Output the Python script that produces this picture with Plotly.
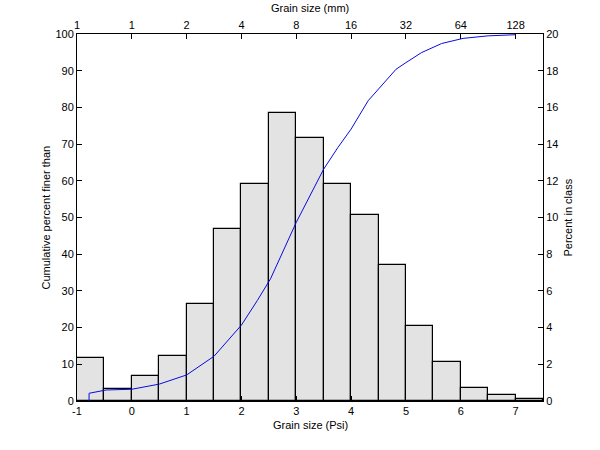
import plotly.graph_objects as go

# Histogram classes (Psi) and percent in class
bin_left = [-1.0, -0.5, 0.0, 0.5, 1.0, 1.5, 2.0, 2.5, 3.0, 3.5, 4.0, 4.5, 5.0, 5.5, 6.0, 6.5, 7.0]
pct_in_class = [2.37, 0.63, 1.34, 2.43, 5.26, 9.35, 11.83, 15.69, 14.33, 11.83, 10.15, 7.39, 4.08, 2.12, 0.69, 0.33, 0.11]
bin_width = 0.5

# Cumulative curve (Psi, percent finer than)
cum_psi = [-0.78, -0.78, -0.47, 0.0, 0.5, 1.0, 1.5, 2.0, 2.29, 2.53, 3.0, 3.5, 3.76, 4.0, 4.31, 4.55, 4.82, 5.0, 5.28, 5.65, 6.04, 6.5, 7.0]
cum_pct = [0.0, 2.1, 3.0, 3.2, 4.6, 7.1, 12.2, 20.7, 27.4, 33.3, 48.7, 63.2, 69.1, 74.1, 81.8, 85.9, 90.4, 92.2, 94.9, 97.4, 98.8, 99.5, 99.8]

# Axis ticks
psi_ticks = [-1, 0, 1, 2, 3, 4, 5, 6, 7]
psi_ticktext = ["-1", "0", "1", "2", "3", "4", "5", "6", "7"]
mm_ticktext = ["1", "1", "2", "4", "8", "16", "32", "64", "128"]

FONT = "Liberation Sans, Arial, sans-serif"
bar_centers = [b + bin_width / 2 for b in bin_left]

fig = go.Figure()
fig.add_trace(go.Bar(
    x=bar_centers, y=pct_in_class, width=bin_width,
    marker=dict(color="#e3e3e3", line=dict(color="black", width=1.2)),
    yaxis="y", xaxis="x", showlegend=False,
))
fig.add_trace(go.Scatter(
    x=cum_psi, y=cum_pct, mode="lines",
    line=dict(color="#0a0ae0", width=1),
    yaxis="y2", xaxis="x", showlegend=False,
))
# invisible trace to activate top axis
fig.add_trace(go.Scatter(x=[-1], y=[0], xaxis="x2", yaxis="y", mode="markers",
                         marker=dict(opacity=0), showlegend=False, hoverinfo="skip"))

axis_common = dict(showline=True, linecolor="black", linewidth=1, ticks="inside",
                   ticklen=5, tickcolor="black", showgrid=False, zeroline=False,
                   automargin=False,
                   tickfont=dict(family=FONT, size=11, color="black"))

title_font = dict(family=FONT, size=11, color="black")

fig.update_layout(
    width=600, height=450,
    margin=dict(l=77, r=57, t=34, b=49),
    paper_bgcolor="white", plot_bgcolor="white",
    bargap=0,
    font=dict(family=FONT, size=11, color="black"),
    xaxis=dict(range=[-1, 7.5], tickvals=psi_ticks, ticktext=psi_ticktext, **axis_common),
    xaxis2=dict(range=[-1, 7.5], tickvals=psi_ticks, ticktext=mm_ticktext,
                overlaying="x", side="top", **axis_common),
    yaxis=dict(range=[0, 20], dtick=2, side="right", **axis_common),
    yaxis2=dict(range=[0, 100], dtick=10, side="left", overlaying="y", **axis_common),
    annotations=[
        dict(text="Grain size (Psi)", xref="paper", yref="paper", x=0.5, y=-0.065,
             xanchor="center", yanchor="middle", showarrow=False, font=title_font),
        dict(text="Grain size (mm)", xref="paper", yref="paper", x=0.5, y=1.0 + 26/367,
             xanchor="center", yanchor="middle", showarrow=False, font=title_font),
        dict(text="Cumulative percent finer than", xref="paper", yref="paper", x=-32/466, y=0.5,
             xanchor="center", yanchor="middle", textangle=-90, showarrow=False,
             font=title_font),
        dict(text="Percent in class", xref="paper", yref="paper", x=1.0 + 24/466, y=0.5,
             xanchor="center", yanchor="middle", textangle=-90, showarrow=False,
             font=title_font),
    ],
)

fig.write_html("out.html")
